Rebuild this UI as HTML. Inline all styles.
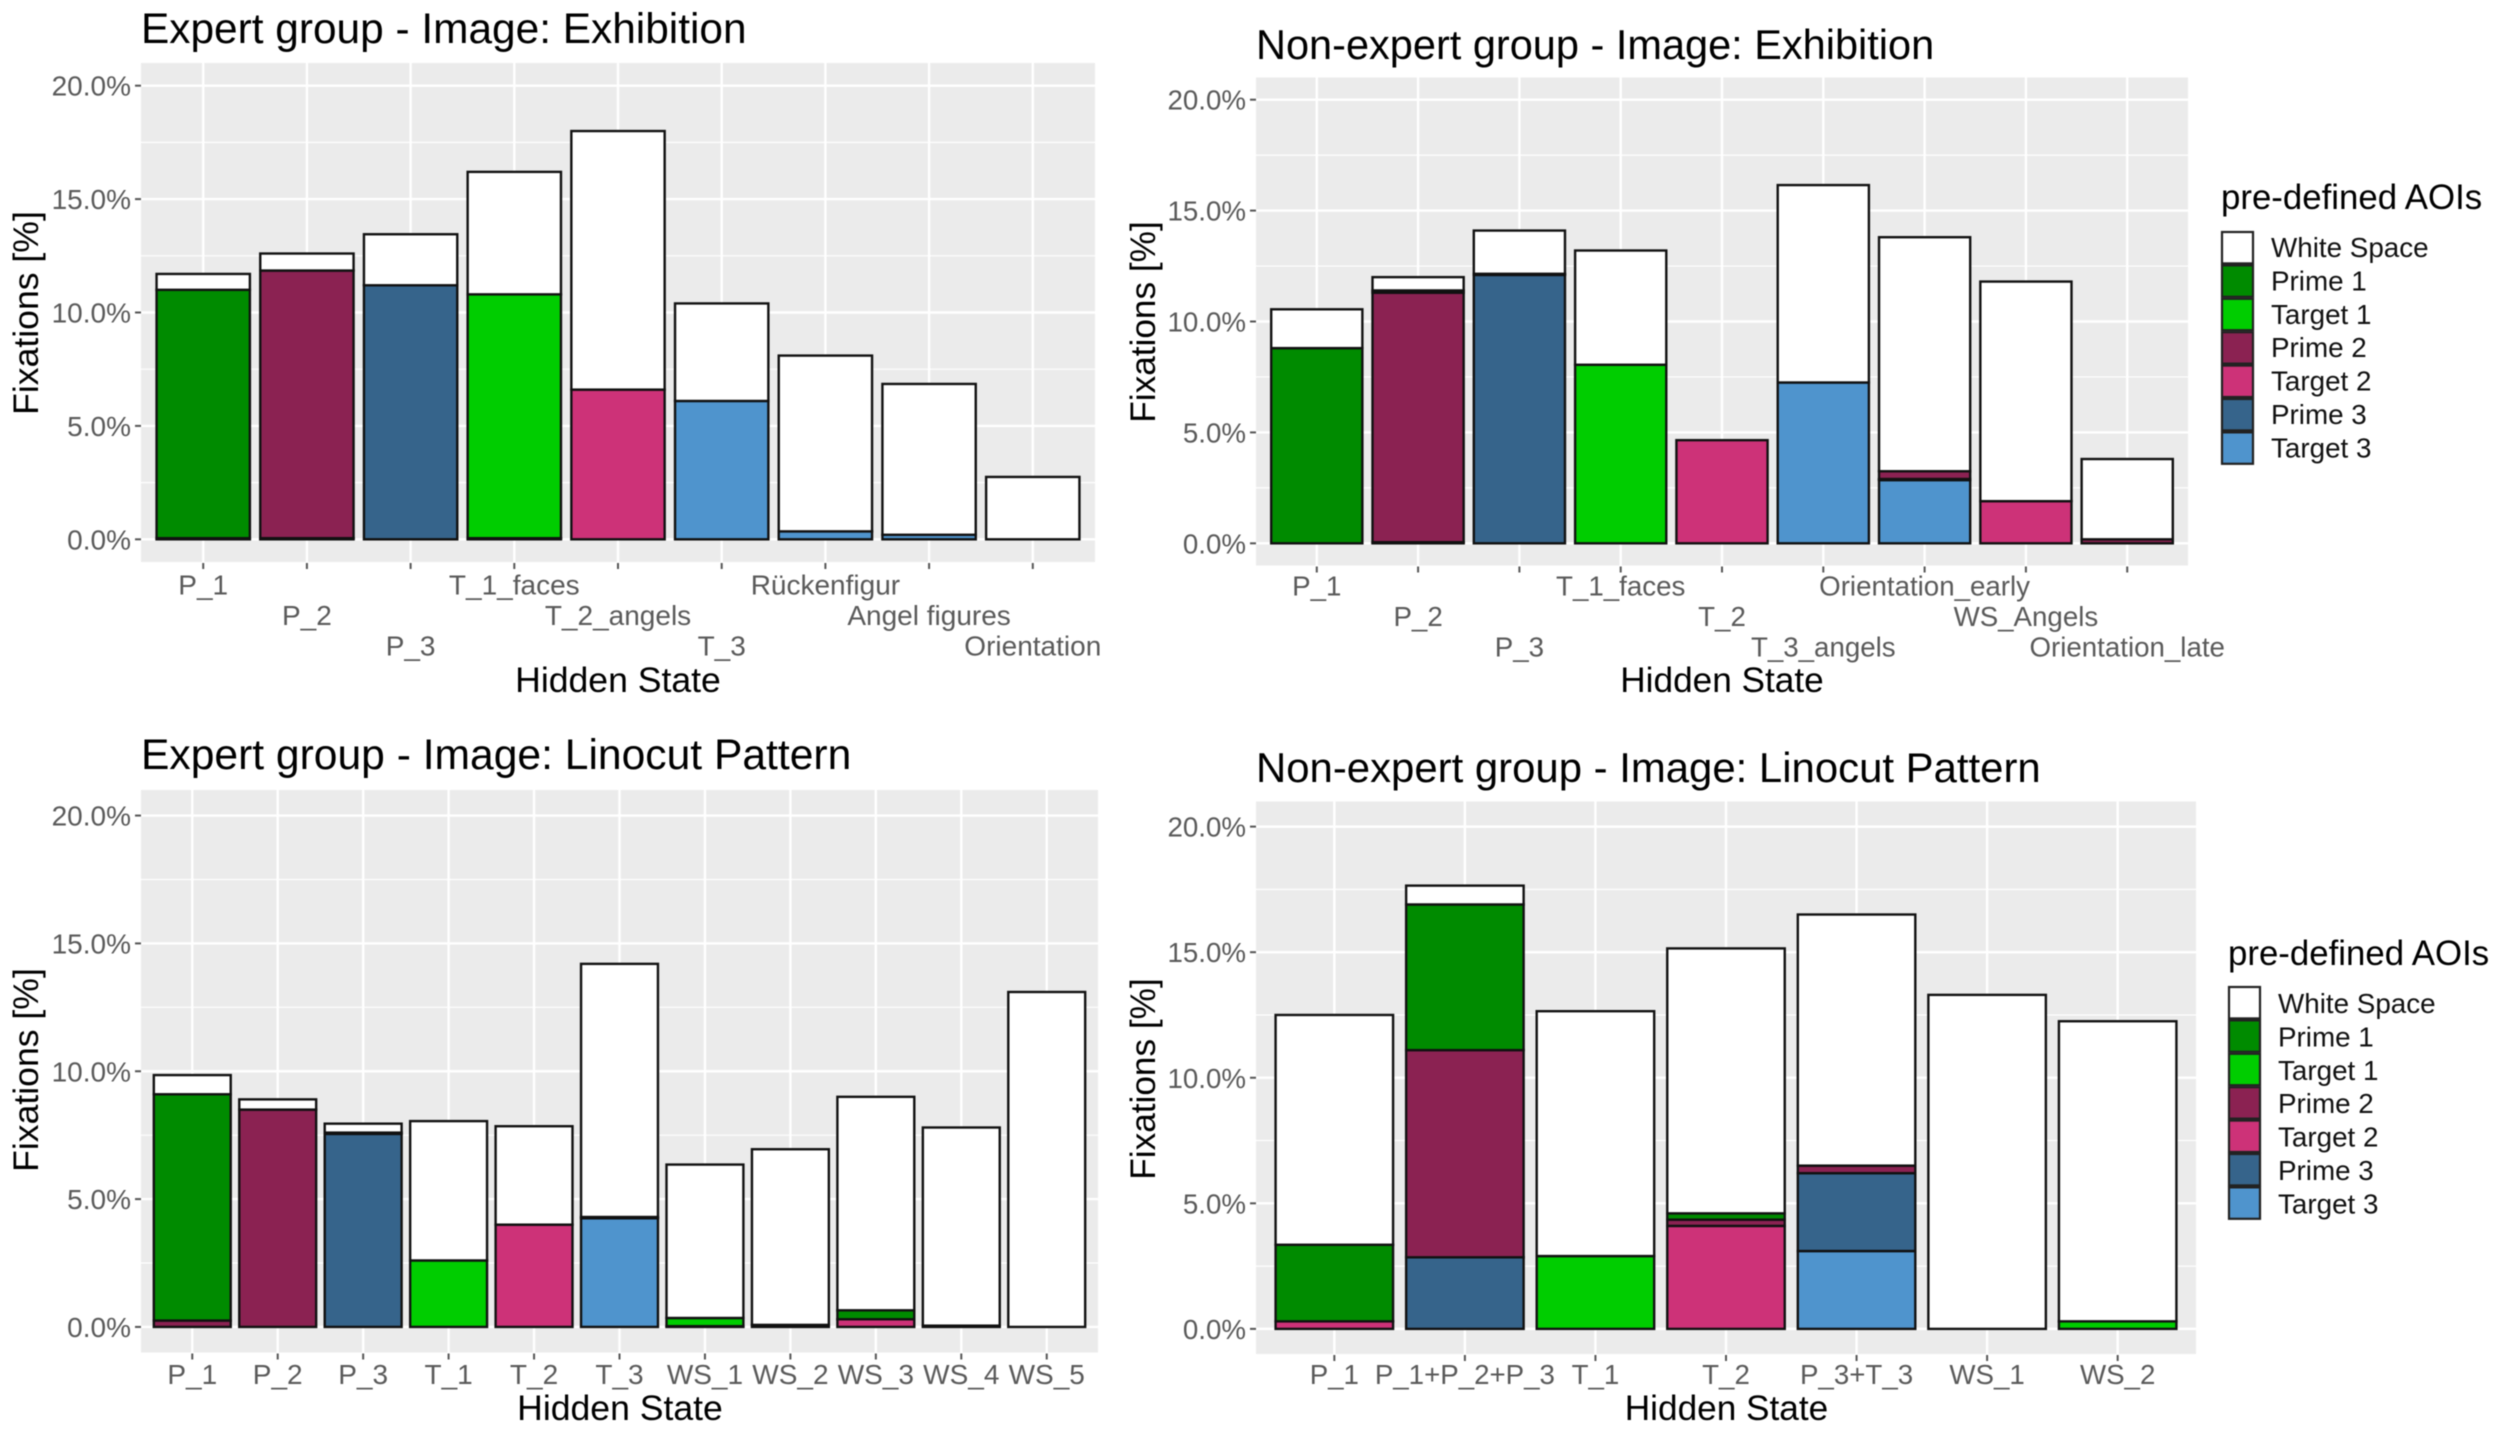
<!DOCTYPE html>
<html lang="en">
<head>
<meta charset="utf-8">
<title>Fixations per hidden state</title>
<style>
  html, body { margin: 0; padding: 0; background: #fff; }
  svg { display: block; filter: blur(0.6px); }
  text { font-family: "Liberation Sans", Arial, sans-serif; }
</style>
</head>
<body>
<svg id="figure" xmlns="http://www.w3.org/2000/svg" width="2500" height="1436" viewBox="0 0 2500 1436">
  <rect x="0" y="0" width="2500" height="1436" fill="#ffffff"/>
  <text x="141" y="43" font-size="42.4" fill="#000">Expert group - Image: Exhibition</text>
  <text x="1256" y="59" font-size="41.5" fill="#000">Non-expert group - Image: Exhibition</text>
  <text x="141" y="769" font-size="42.6" fill="#000">Expert group - Image: Linocut Pattern</text>
  <text x="1256" y="782" font-size="41.9" fill="#000">Non-expert group - Image: Linocut Pattern</text>
</svg>
<script>
// Shared axis values
const yTickValues = [0, 5, 10, 15, 20];
const yMinorValues = [2.5, 7.5, 12.5, 17.5];
const seriesNames = ["Target 3", "Prime 3", "Target 2", "Prime 2", "Target 1", "Prime 1", "White Space"];
const seriesColors = ["#4f94cd", "#36648b", "#cd3278", "#8b2252", "#00cd00", "#008b00", "#ffffff"];
const legendOrder = ["White Space", "Prime 1", "Target 1", "Prime 2", "Target 2", "Prime 3", "Target 3"];

// Expert group - Exhibition
const expExhCategories = ["P_1", "P_2", "P_3", "T_1_faces", "T_2_angels", "T_3", "Rückenfigur", "Angel figures", "Orientation"];
const expExhTarget3 = [0, 0, 0, 0, 0, 6.1, 0.35, 0.2, 0];
const expExhPrime3 = [0, 0, 11.2, 0.05, 0, 0, 0, 0, 0];
const expExhTarget2 = [0, 0.05, 0, 0, 6.6, 0, 0, 0, 0];
const expExhPrime2 = [0.05, 11.8, 0, 0, 0, 0, 0, 0, 0];
const expExhTarget1 = [0, 0, 0, 10.75, 0, 0, 0, 0, 0];
const expExhPrime1 = [10.95, 0, 0, 0, 0, 0, 0, 0, 0];
const expExhWhite = [0.7, 0.75, 2.25, 5.4, 11.4, 4.3, 7.75, 6.65, 2.75];

// Non-expert group - Exhibition
const nonExhCategories = ["P_1", "P_2", "P_3", "T_1_faces", "T_2", "T_3_angels", "Orientation_early", "WS_Angels", "Orientation_late"];
const nonExhTarget3 = [0, 0, 0, 0, 0, 7.25, 2.85, 0, 0];
const nonExhPrime3 = [0, 0, 12.1, 0, 0, 0, 0, 0, 0];
const nonExhTarget2 = [0, 0.05, 0, 0, 4.65, 0, 0.05, 1.9, 0];
const nonExhPrime2 = [0, 11.25, 0.05, 0, 0, 0, 0.35, 0, 0.18];
const nonExhTarget1 = [0, 0, 0, 8.05, 0, 0, 0, 0, 0];
const nonExhPrime1 = [8.8, 0.1, 0, 0, 0, 0, 0, 0, 0];
const nonExhWhite = [1.75, 0.6, 1.95, 5.15, 0, 8.9, 10.55, 9.9, 3.62];

// Expert group - Linocut Pattern
const expLinCategories = ["P_1", "P_2", "P_3", "T_1", "T_2", "T_3", "WS_1", "WS_2", "WS_3", "WS_4", "WS_5"];
const expLinTarget3 = [0, 0, 0, 0, 0, 4.25, 0.03, 0, 0, 0, 0];
const expLinPrime3 = [0, 0, 7.55, 0, 0, 0, 0, 0, 0, 0, 0];
const expLinTarget2 = [0, 0, 0, 0, 4.0, 0, 0, 0, 0.3, 0, 0];
const expLinPrime2 = [0.25, 8.5, 0.05, 0, 0, 0.05, 0, 0.08, 0, 0.05, 0];
const expLinTarget1 = [0, 0, 0, 2.6, 0, 0, 0.32, 0, 0, 0, 0];
const expLinPrime1 = [8.85, 0, 0, 0, 0, 0, 0, 0, 0.35, 0, 0];
const expLinWhite = [0.75, 0.4, 0.35, 5.45, 3.85, 9.9, 6.0, 6.87, 8.35, 7.75, 13.1];

// Non-expert group - Linocut Pattern
const nonLinCategories = ["P_1", "P_1+P_2+P_3", "T_1", "T_2", "P_3+T_3", "WS_1", "WS_2"];
const nonLinTarget3 = [0, 0, 0, 0, 3.1, 0, 0];
const nonLinPrime3 = [0, 2.85, 0, 0, 3.1, 0, 0];
const nonLinTarget2 = [0.3, 0, 0, 4.1, 0, 0, 0];
const nonLinPrime2 = [0, 8.25, 0, 0.25, 0.3, 0, 0];
const nonLinTarget1 = [0, 0, 2.9, 0, 0, 0, 0.3];
const nonLinPrime1 = [3.05, 5.8, 0, 0.25, 0, 0, 0];
const nonLinWhite = [9.15, 0.75, 9.75, 10.55, 10, 13.3, 11.95];

const SVG_NS = "http://www.w3.org/2000/svg";
const figure = document.getElementById("figure");

function svgEl(tag, attrs, parent) {
  const el = document.createElementNS(SVG_NS, tag);
  for (const k in attrs) el.setAttribute(k, attrs[k]);
  parent.appendChild(el);
  return el;
}

function drawPanel(p) {
  const g = svgEl("g", {}, figure);
  
  

  const yScale = v => p.bottom - (v + 1) / 22 * (p.bottom - p.top);
  const step = (p.right - p.left) / (p.categories.length + 0.2);
  const xScale = i => p.left + (i + 0.6) * step;

  const bg = svgEl("rect", { x: p.left, y: p.top, width: p.right - p.left, height: p.bottom - p.top, fill: "#ebebeb" }, g);
  
  

  yMinorValues.forEach(v => {
    const line = svgEl("line", { x1: p.left, x2: p.right, y1: yScale(v), y2: yScale(v), stroke: "#fff", "stroke-width": 1.2 }, g);
    
    
  });
  yTickValues.forEach(v => {
    const line = svgEl("line", { x1: p.left, x2: p.right, y1: yScale(v), y2: yScale(v), stroke: "#fff", "stroke-width": 2.4 }, g);
    
    

    const tick = svgEl("line", { x1: p.left - 6, x2: p.left, y1: yScale(v), y2: yScale(v), stroke: "#555", "stroke-width": 2 }, g);
    
    

    const label = svgEl("text", { x: p.left - 10, y: yScale(v) + 10, "text-anchor": "end", "font-size": p.tickSize, fill: "#5a5a5a" }, g);
    
    
    label.textContent = v.toFixed(1) + "%";
  });

  p.categories.forEach((cat, i) => {
    const cx = xScale(i);
    const line = svgEl("line", { x1: cx, x2: cx, y1: p.top, y2: p.bottom, stroke: "#fff", "stroke-width": 2.4 }, g);
    
    

    const tick = svgEl("line", { x1: cx, x2: cx, y1: p.bottom + 1, y2: p.bottom + 7, stroke: "#555", "stroke-width": 2 }, g);
    
    

    const row = p.dodge > 1 ? i % p.dodge : 0;
    const label = svgEl("text", { x: cx, y: p.labelY + row * p.rowStep, "text-anchor": "middle", "font-size": p.tickSize, fill: "#5a5a5a" }, g);
    
    
    label.textContent = cat;
  });

  const barWidth = step * 0.9;
  p.categories.forEach((cat, i) => {
    let base = 0;
    p.series.forEach((values, s) => {
      const v = values[i];
      if (!v) return;
      const yTop = yScale(base + v);
      const rect = svgEl("rect", {
        x: xScale(i) - barWidth / 2, y: yTop, width: barWidth, height: yScale(base) - yTop,
        fill: seriesColors[s], stroke: "#111", "stroke-width": 2.4
      }, g);
      
      
      base += v;
    });
  });

  const xTitle = svgEl("text", { x: p.xTitleX, y: p.xTitleY, "text-anchor": "middle", "font-size": p.axisTitleSize, fill: "#000" }, g);
  
  
  xTitle.textContent = "Hidden State";

  const yTitle = svgEl("text", { transform: "translate(" + p.yTitleX + "," + p.yTitleY + ") rotate(-90)", "text-anchor": "middle", "font-size": p.axisTitleSize, fill: "#000" }, g);
  
  
  yTitle.textContent = "Fixations [%]";
}

function drawLegend(id, titleX, titleY, keyX, keyY, labelX, labelY) {
  const g = svgEl("g", {}, figure);
  
  

  const title = svgEl("text", { x: titleX, y: titleY, "font-size": 34.8, fill: "#000" }, g);
  
  
  title.textContent = "pre-defined AOIs";

  legendOrder.forEach((name, i) => {
    const key = svgEl("rect", {
      x: keyX, y: keyY + i * 33.4 + 1, width: 31, height: 31.4,
      fill: seriesColors[seriesNames.indexOf(name)], stroke: "#222", "stroke-width": 2.2
    }, g);
    
    

    const label = svgEl("text", { x: labelX, y: labelY + i * 33.4, "font-size": 27.8, fill: "#111" }, g);
    
    
    label.textContent = name;
  });
}

drawPanel({
  id: "expert-exhibition", left: 141, right: 1095, top: 63, bottom: 562,
  categories: expExhCategories,
  series: [expExhTarget3, expExhPrime3, expExhTarget2, expExhPrime2, expExhTarget1, expExhPrime1, expExhWhite],
  dodge: 3, labelY: 594.5, rowStep: 30.5, xTitleX: 618, xTitleY: 692, yTitleX: 38, yTitleY: 313,
  tickSize: 28, axisTitleSize: 35.6
});
drawPanel({
  id: "nonexpert-exhibition", left: 1256, right: 2188, top: 77.5, bottom: 565.5,
  categories: nonExhCategories,
  series: [nonExhTarget3, nonExhPrime3, nonExhTarget2, nonExhPrime2, nonExhTarget1, nonExhPrime1, nonExhWhite],
  dodge: 3, labelY: 595.5, rowStep: 30.5, xTitleX: 1722, xTitleY: 692, yTitleX: 1155, yTitleY: 322,
  tickSize: 27.7, axisTitleSize: 35.2
});
drawPanel({
  id: "expert-linocut", left: 141, right: 1098, top: 790, bottom: 1352.5,
  categories: expLinCategories,
  series: [expLinTarget3, expLinPrime3, expLinTarget2, expLinPrime2, expLinTarget1, expLinPrime1, expLinWhite],
  dodge: 1, labelY: 1384, rowStep: 0, xTitleX: 620, xTitleY: 1420, yTitleX: 38, yTitleY: 1070,
  tickSize: 28, axisTitleSize: 35.6
});
drawPanel({
  id: "nonexpert-linocut", left: 1256, right: 2196, top: 801.5, bottom: 1354,
  categories: nonLinCategories,
  series: [nonLinTarget3, nonLinPrime3, nonLinTarget2, nonLinPrime2, nonLinTarget1, nonLinPrime1, nonLinWhite],
  dodge: 1, labelY: 1384, rowStep: 0, xTitleX: 1726.5, xTitleY: 1420, yTitleX: 1155, yTitleY: 1079,
  tickSize: 27.7, axisTitleSize: 35.2
});

drawLegend("legend-upper", 2221, 209, 2222, 231, 2271, 257);
drawLegend("legend-lower", 2228, 965, 2229, 986, 2278, 1013);
</script>
</body>
</html>
